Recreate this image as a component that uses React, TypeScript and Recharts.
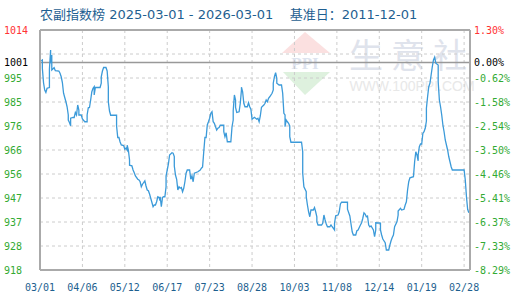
import { LineChart, Line, XAxis, YAxis, CartesianGrid, ReferenceLine } from "recharts"

// day index counted from 2025-03-01
const days = [
  1, 2, 2, 3, 4, 5, 6, 8, 8, 9, 9, 10, 10, 12, 13, 16, 17, 18, 19, 20, 21, 22, 23, 24, 24, 25, 26, 26, 28, 29,
  30, 31, 32, 33, 33, 35, 36, 38, 40, 40, 41, 42, 43, 44, 45, 46, 46, 47, 51, 52, 52, 53, 54, 56, 57, 58, 58, 59,
  60, 65, 65, 66, 67, 68, 69, 71, 72, 73, 74, 74, 75, 76, 76, 78, 79, 80, 81, 83, 84, 85, 86, 87, 88, 89, 90, 91,
  92, 93, 94, 96, 97, 98, 99, 100, 101, 102, 102, 103, 104, 105, 106, 107, 107, 108, 109, 110, 112, 113, 114,
  114, 115, 116, 117, 118, 119, 120, 121, 122, 123, 124, 125, 127,
  128, 129, 130, 131, 134, 136, 137, 138, 139, 140, 141, 142, 143, 144, 145, 146, 147, 148, 149, 150, 151, 152,
  153, 156, 156, 157, 158, 159, 162, 163, 164, 164, 165, 166, 166, 167, 169, 170, 171, 171, 172, 173, 174, 176,
  177, 178, 179, 180, 182, 184, 185, 186, 187, 188, 190, 191, 192, 193, 194, 195, 197, 198, 198, 199, 200, 201,
  201, 203, 205, 206, 207, 208, 208, 209, 210, 211, 212, 212, 213, 222, 223, 223, 224, 226, 226, 227, 228, 229,
  230, 232, 233, 234, 235, 235, 236, 239, 240, 241, 242, 243, 244, 246,
  247, 248, 250, 250, 251, 253, 254, 255, 256, 261, 261, 263, 264, 265, 266, 268, 269, 270, 271, 272, 273, 274,
  275, 276, 277, 278, 279, 280, 281, 283, 284, 285, 285, 289, 289, 290, 291, 293, 294, 296, 297, 298, 299, 300,
  301, 303, 304, 304, 306, 307, 309, 310, 311, 312, 313, 314, 317, 318, 319, 320, 321, 321, 322, 323, 324, 325,
  326, 327, 328, 328, 329, 330, 331, 332, 333, 334, 335, 336, 338, 338, 339, 340, 341, 342, 343, 344, 345, 346,
  347, 348, 349, 350, 360, 361, 362, 363, 364,
]

const index = [
  1001.7, 1002, 998.7, 992.9, 990, 989, 990.7, 991, 998.3, 1006, 1000.7, 1004, 998, 998.9, 997.7, 997.6, 996.7,
  995.3, 993, 988.7, 987, 985.3, 983.3, 980, 978, 977, 975.7, 978.7, 979, 979, 981, 980, 984, 982, 980, 980,
  978.4, 977.3, 977.3, 980, 982.9, 983, 986, 989.3, 990.7, 991.3, 988, 991, 991, 992.7, 995.3, 997.6, 999, 999,
  997.6, 991.3, 985.3, 981.6, 979.9, 979.9, 975.6, 971, 971, 969.2, 968, 967.8, 966.3, 966.8, 966, 967.9, 966,
  962, 959.9, 959.7, 958, 956.9, 955.6, 954.3, 954, 953.3, 951.3, 952.3, 953, 953.7, 951.6, 950, 949.7, 948.4,
  946.7, 943.3, 944, 944, 945.3, 947.3, 947, 945.7, 947.3, 943.3, 947, 947.3, 947.3, 951.3, 955.6, 958, 960.4,
  964, 964.9, 964.7, 963.4, 959.6, 956, 954.3, 950, 951.3, 950.7, 951, 949.3, 950.7, 953.3, 956.7, 958, 958,
  954.3, 955.7, 953.3, 956.7, 957.3, 958, 958.7, 959.2, 965.3, 971, 971, 976, 977.3, 978.7, 980.7, 981.3, 977.3,
  976.7, 975.3, 974, 974.7, 975, 975.9, 975.9, 973.3, 971.3, 972.9, 969.3, 969.3, 975.3, 978, 981.7, 988, 986,
  983, 981, 981.3, 984.7, 990, 991.1, 989.3, 984.7, 983.3, 983.3, 984.9, 983.3, 982.3, 978.3, 979.1, 978.3,
  978.7, 977.3, 979.6, 983.1, 984, 984.7, 986, 985.3, 986.7, 987.3, 988.7, 990, 992.7, 995.3, 996.9, 994.7,
  992.7, 992, 992, 988.7, 980.7, 980, 975.3, 978, 977.3, 976.7, 975.6, 971.3, 969.1, 969.1, 965.3, 956.7,
  951.3, 949.3, 947.3, 944, 941.3, 939.3, 942, 942, 943, 941.3, 939.3, 937.3, 936, 936, 936.7, 940, 938, 936.4,
  935.3, 935.3,
  936, 935.3, 934, 936.7, 939.7, 940, 941.3, 944.4, 945.1, 945.1, 942.3, 939.6, 936.4, 933.3, 932, 932, 933.7,
  934, 935, 936, 936.9, 938.7, 940.9, 940.4, 939.3, 939.6, 936, 935.3, 935.6, 934, 931.3, 934, 936.9, 936.8,
  934, 932, 930.4, 928.9, 926, 926, 928, 929.7, 931, 932, 935.3, 937.3, 940, 941.6, 942.7, 942, 942.3, 944,
  945.3, 950, 953.3, 954.9, 955.3, 961.3, 965.3, 964, 961.7, 964, 967.3, 968.4, 968.4, 972.7, 973.3, 974.7,
  977.6, 982.7, 987.3, 991.3, 992.7, 996, 999.3, 1002, 1003.1, 1000.7, 1000, 993.3, 986, 983.3, 980, 976,
  973.3, 970, 968, 966, 963.3, 961.3, 959.3, 958, 958, 954, 947.3, 942.3, 940.9,
]

const xTicks = [0, 36, 72, 108, 144, 180, 216, 252, 288, 324, 360]
const xLabels = ["03/01", "04/06", "05/12", "06/17", "07/23", "08/28", "10/03", "11/08", "12/14", "01/19", "02/28"]

const gridValues = [918, 927.6, 937.2, 946.8, 956.4, 966, 975.6, 985.2, 994.8, 1004.4, 1014]
const yTicks = [918, 927.6, 937.2, 946.8, 956.4, 966, 975.6, 985.2, 994.8, 1001, 1014]
const leftLabels = ["918", "928", "937", "947", "956", "966", "976", "985", "995", "1001", "1014"]
const rightLabels = ["-8.29%", "-7.33%", "-6.37%", "-5.41%", "-4.46%", "-3.50%", "-2.54%", "-1.58%", "-0.62%", "0.00%", "1.30%"]

const data = days.map((d, i) => ({ day: d, value: index[i] }))

const MONO = "'DejaVu Sans Mono', 'Liberation Mono', monospace"
const GREEN = "#33aa33"

function labelColor(i: number) {
  if (i === yTicks.length - 1) return "#ff3333"
  if (i === yTicks.length - 2) return "#000"
  return GREEN
}

const LeftTick = (props: any) => {
  const i = yTicks.indexOf(props.payload.value)
  return (
    <text x={4} y={props.y} dy={3.5} fill={labelColor(i)} fontSize={10} fontFamily={MONO}>
      {leftLabels[i]}
    </text>
  )
}

const RightTick = (props: any) => {
  const i = yTicks.indexOf(props.payload.value)
  return (
    <text x={474} y={props.y} dy={3.5} fill={labelColor(i)} fontSize={10} fontFamily={MONO}>
      {rightLabels[i]}
    </text>
  )
}

const BottomTick = (props: any) => {
  const i = xTicks.indexOf(props.payload.value)
  return (
    <text x={props.x} y={291} textAnchor="middle" fill="#1d5f8f" fontSize={10} fontFamily={MONO}>
      {xLabels[i]}
    </text>
  )
}

function Watermark() {
  return (
    <svg width={520} height={300} style={{ position: "absolute", left: 0, top: 0 }}>
      <polygon points="282,53 330,53 305,32" fill="#fbe0e0" />
      <polygon points="283,72 330,72 305,95" fill="#def1de" />
      <text x={305} y={69} textAnchor="middle" fontSize={17} fontWeight="bold" fill="#dde3ee" fontFamily="'Liberation Serif', serif">
        PPI
      </text>
      <text x={412} y={68} textAnchor="middle" fontSize={34} fill="#dfe3ec" fontFamily="'Noto Sans CJK SC'" letterSpacing={8}>
        生意社
      </text>
      <text x={412} y={91} textAnchor="middle" fontSize={14} fill="#e8e8e8" fontFamily="'Liberation Sans', sans-serif">
        WWW.100PPI.COM
      </text>
    </svg>
  )
}

export default function App() {
  return (
    <div style={{ position: "absolute", left: 0, top: 0, width: 520, height: 300, background: "#fff" }}>
      <Watermark />
      <div
        style={{
          position: "absolute",
          left: 40,
          top: 6,
          fontSize: 13,
          color: "#1f5f91",
          fontFamily: "'DejaVu Sans', 'Noto Sans CJK SC', sans-serif",
          whiteSpace: "pre",
          lineHeight: "18px",
        }}
      >
        {"农副指数榜 2025-03-01 - 2026-03-01    基准日：2011-12-01"}
      </div>
      <div style={{ position: "absolute", left: 0, top: 0 }}>
        <LineChart width={520} height={300} data={data} margin={{ top: 30, right: 0, bottom: 0, left: 0 }}>
          <CartesianGrid
            stroke="#cccccc"
            strokeDasharray="3 3"
            horizontalValues={gridValues}
            verticalValues={xTicks}
          />
          <XAxis
            dataKey="day"
            type="number"
            domain={[0, 365]}
            ticks={xTicks}
            height={30}
            tickLine={false}
            axisLine={{ stroke: "#aaaaaa", strokeWidth: 2 }}
            tick={<BottomTick />}
            interval={0}
            allowDataOverflow
          />
          <YAxis
            domain={[918, 1014]}
            ticks={yTicks}
            width={40}
            tickLine={false}
            axisLine={{ stroke: "#aaaaaa", strokeWidth: 2 }}
            tick={<LeftTick />}
            interval={0}
            allowDataOverflow
          />
          <YAxis
            yAxisId="right"
            orientation="right"
            domain={[918, 1014]}
            ticks={yTicks}
            width={50}
            tickLine={false}
            axisLine={{ stroke: "#aaaaaa", strokeWidth: 2 }}
            tick={<RightTick />}
            interval={0}
            allowDataOverflow
          />
          <ReferenceLine y={1014} stroke="#aaaaaa" strokeWidth={2} />
          <ReferenceLine y={1001} stroke="#999999" strokeWidth={1.5} />
          <Line
            type="linear"
            dataKey="value"
            stroke="#3b9ad9"
            strokeWidth={1.3}
            dot={false}
            isAnimationActive={false}
          />
        </LineChart>
      </div>
    </div>
  )
}
